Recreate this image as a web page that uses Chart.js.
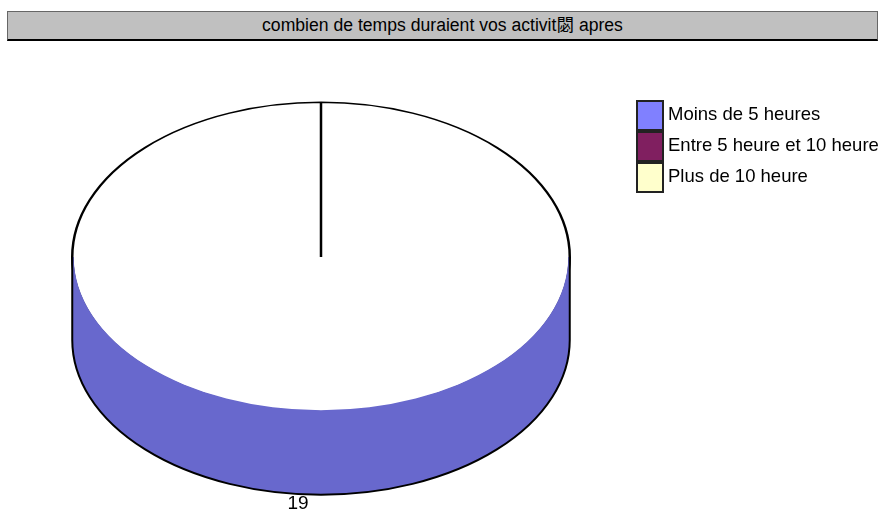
<!DOCTYPE html>
<html>
<head>
<meta charset="utf-8">
<script src="https://cdn.jsdelivr.net/npm/chart.js@4.4.1/dist/chart.umd.min.js"></script>
<style>
  body { margin: 0; background: #fff; font-family: "Liberation Sans", Arial, "Noto Sans CJK SC", sans-serif; }
  #wrap { position: relative; width: 884px; height: 512px; overflow: hidden; }
  #pie { position: absolute; left: 0; top: 0; }
  #title {
    position: absolute; left: 7px; top: 11px; width: 869px; height: 27px;
    background: #c0c0c0; border: 1px solid #666; border-bottom: 2px solid #000;
    text-align: center; line-height: 27px; font-size: 17.6px; color: #000;
  }
  #legend { position: absolute; left: 636px; top: 100px; }
  .row { height: 31px; display: flex; align-items: center; white-space: nowrap; font-size: 18.5px; color: #000; }
  .row span { position: relative; top: -2px; }
  .box { width: 24px; height: 27px; border: 2px solid #222; margin-right: 4px; }
</style>
</head>
<body>
<div id="wrap">
  <div id="title">combien de temps duraient vos activit閟 apres</div>
  <canvas id="pie" width="884" height="512"></canvas>
  <div id="legend"></div>
</div>
<script>
// data
var categories = ["Moins de 5 heures", "Entre 5 heure et 10 heure", "Plus de 10 heure"];
var values = [19, 0, 0];
var colors = ["#8080ff", "#801f60", "#ffffcc"];
var sideColors = ["#6868cd", "#66194d", "#ccccA3"];

// legend
var legend = document.getElementById("legend");
categories.forEach(function (c, i) {
  var row = document.createElement("div");
  row.className = "row";
  row.innerHTML = '<div class="box" style="background:' + colors[i] + '"></div><span>' + c + "</span>";
  legend.appendChild(row);
});

var CY = 257;       // screen y of the top face centre
var SQUASH = 0.622; // vertical squash of the ellipse
var DEPTH = 83;     // height of the side wall

function drawSides(chart) {
  var ctx = chart.ctx;
  var meta = chart.getDatasetMeta(0);
  meta.data.forEach(function (el, i) {
    var p = el.getProps(["x", "startAngle", "endAngle", "outerRadius"], true);
    var rx = p.outerRadius, ry = p.outerRadius * SQUASH;
    for (var k = -1; k <= 1; k++) {
      var a0 = Math.max(p.startAngle, 2 * Math.PI * k);
      var a1 = Math.min(p.endAngle, 2 * Math.PI * k + Math.PI);
      if (a1 <= a0) continue;
      ctx.save();
      ctx.beginPath();
      ctx.moveTo(p.x + rx * Math.cos(a0), CY + ry * Math.sin(a0));
      ctx.lineTo(p.x + rx * Math.cos(a0), CY + DEPTH + ry * Math.sin(a0));
      ctx.ellipse(p.x, CY + DEPTH, rx, ry, 0, a0, a1, false);
      ctx.lineTo(p.x + rx * Math.cos(a1), CY + ry * Math.sin(a1));
      ctx.ellipse(p.x, CY, rx - 1.5, ry - 1.5, 0, a1, a0, true);
      ctx.closePath();
      ctx.fillStyle = sideColors[i];
      ctx.fill();
      ctx.beginPath();
      ctx.moveTo(p.x + rx * Math.cos(a0), CY + ry * Math.sin(a0));
      ctx.lineTo(p.x + rx * Math.cos(a0), CY + DEPTH + ry * Math.sin(a0));
      ctx.ellipse(p.x, CY + DEPTH, rx, ry, 0, a0, a1, false);
      ctx.lineTo(p.x + rx * Math.cos(a1), CY + ry * Math.sin(a1));
      ctx.strokeStyle = "#000";
      ctx.lineWidth = 2;
      ctx.stroke();
      ctx.restore();
    }
  });
}

var tilt3d = {
  id: "tilt3d",
  beforeDatasetsDraw: function (chart) {
    var ctx = chart.ctx;
    var cy = chart.getDatasetMeta(0).data[0].y;
    ctx.save();
    ctx.translate(0, CY);
    ctx.scale(1, SQUASH);
    ctx.translate(0, -cy);
  },
  afterDatasetsDraw: function (chart) {
    var ctx = chart.ctx;
    ctx.restore();
    drawSides(chart);
    var meta = chart.getDatasetMeta(0);
    ctx.save();
    ctx.font = "19px 'Liberation Sans', Arial, sans-serif";
    ctx.fillStyle = "#000";
    ctx.textAlign = "center";
    ctx.textBaseline = "middle";
    meta.data.forEach(function (el, i) {
      if (!values[i]) return;
      var p = el.getProps(["x", "startAngle", "endAngle", "outerRadius"], true);
      var mid = (p.startAngle + p.endAngle) / 2;
      var lx = p.x + p.outerRadius * Math.cos(mid) - 23;
      var ly = CY + DEPTH + p.outerRadius * SQUASH * Math.sin(mid) + 9;
      ctx.fillText(String(values[i]), lx, ly);
    });
    ctx.restore();
  }
};

new Chart(document.getElementById("pie").getContext("2d"), {
  type: "pie",
  data: {
    labels: categories,
    datasets: [{
      data: values,
      backgroundColor: "#ffffff",
      borderColor: "#000000",
      borderWidth: 2.5
    }]
  },
  options: {
    responsive: false,
    animation: false,
    events: [],
    layout: { padding: { left: 71, right: 313, top: 6, bottom: 6 } },
    plugins: { legend: { display: false }, tooltip: { enabled: false }, title: { display: false } }
  },
  plugins: [tilt3d]
});
</script>
</body>
</html>
